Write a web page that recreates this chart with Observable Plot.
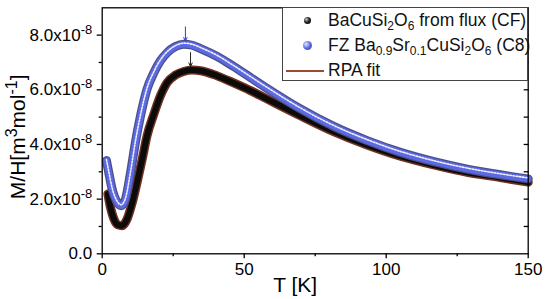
<!DOCTYPE html>
<html><head><meta charset="utf-8">
<script src="https://cdn.jsdelivr.net/npm/d3@7"></script>
<script src="https://cdn.jsdelivr.net/npm/@observablehq/plot@0.6"></script>
<style>
body{margin:0;background:#fff;}
#wrap{position:relative;width:550px;height:299px;font-family:"Liberation Sans",Arial,sans-serif;}
#legend{position:absolute;left:282px;top:7px;width:246px;height:74px;border:1px solid #444;background:#fff;box-sizing:border-box;font-size:17.5px;color:#111;}
.row{position:absolute;left:0;width:100%;height:25px;line-height:25px;white-space:nowrap;}
.txt{position:absolute;left:45px;top:0;}
.mk{position:absolute;border-radius:50%;}
sub{font-size:12px;vertical-align:-4px;line-height:0;}
</style></head>
<body>
<div id="wrap">
  <div id="chart"></div>
  <div id="legend">
    <div class="row" style="top:0px"><span class="mk" style="left:21px;top:9px;width:7px;height:7px;background:radial-gradient(circle at 35% 35%,#ccc 0,#222 45%,#000 100%)"></span><span class="txt">BaCuSi<sub>2</sub>O<sub>6</sub> from flux (CF)</span></div>
    <div class="row" style="top:25px"><span class="mk" style="left:20px;top:8px;width:9px;height:9px;background:radial-gradient(circle at 35% 35%,#e4e8ff 0,#5a68e0 50%,#3240b0 100%)"></span><span class="txt">FZ Ba<sub>0.9</sub>Sr<sub>0.1</sub>CuSi<sub>2</sub>O<sub>6</sub> (C8)</span></div>
    <div class="row" style="top:50px"><span style="position:absolute;left:3px;top:12px;width:38px;height:2px;background:#9c4a33"></span><span class="txt">RPA fit</span></div>
  </div>
</div>
<script>
// Temperature (K) and M/H (units of 1e-8 m^3/mol)
const T_CF = [2.0,2.9,4.1,5.5,7.0,8.8,10.6,12.3,14.1,15.8,18.2,20.5,22.9,25.8,28.7,31.7,34.6,40.5,46.3,52.2,58.1,69.8,81.5,93.3,105,116.8,128.5,140.2,150];
const M_CF = [2.19,1.70,1.28,1.06,1.03,1.28,1.88,2.62,3.47,4.32,5.11,5.78,6.27,6.54,6.67,6.72,6.70,6.51,6.25,5.97,5.66,5.05,4.47,3.98,3.57,3.25,2.98,2.79,2.62];
const T_C8 = [1.5,2.3,3.5,5.3,6.7,8.2,10,11.7,13.5,15.8,18.2,20.5,22.9,25.8,28.7,31.7,34.6,40.5,46.3,52.2,58.1,69.8,81.5,93.3,105,116.8,128.5,140.2,150];
const M_C8 = [3.41,2.98,2.37,1.88,1.76,2.0,2.98,4.08,5.05,6.03,6.63,7.06,7.36,7.58,7.67,7.63,7.51,7.22,6.85,6.45,6.05,5.30,4.66,4.14,3.71,3.37,3.10,2.89,2.74];
// peak arrows
const arrowT = [29.3, 31.1];
const arrowFrom = [8.3, 7.36];
const arrowTo = [7.78, 6.85];
const arrowColor = ["#2f3fd8", "#222222"];
// ticks
const xTicks = [0,50,100,150];
const xMinor = [25,75,125];
const yTicks = [0,2,4,6,8];
const yMinor = [1,3,5,7];
const yRight = [1,2,3,4,5,6,7,8];

const cf = T_CF.map((t,i)=>({T:t, M:M_CF[i]}));
const c8 = T_C8.map((t,i)=>({T:t, M:M_C8[i]}));
const arrows = arrowT.map((t,i)=>({T:t, y1:arrowFrom[i], y2:arrowTo[i], c:arrowColor[i]}));

const fmt = d => d === 0 ? "0.0" : d.toFixed(1) + "x10^{-8}";

const plot = Plot.plot({
  width: 550, height: 299,
  marginLeft: 101.7, marginRight: 22.3, marginTop: 7.3, marginBottom: 45.7,
  style: {fontFamily: "Liberation Sans, Arial, sans-serif", fontSize: "17px", color: "#000", background: "#fff", overflow: "visible"},
  x: {domain: [0,150]},
  y: {domain: [0,9]},
  marks: [
    // black data (CF) with RPA fit underlay
    Plot.line(cf, {x:"T", y:"M", stroke:"#6e3222", strokeWidth:9, curve:"monotone-x"}),
    Plot.line(cf, {x:"T", y:"M", stroke:"#0d0b0a", strokeWidth:6, curve:"monotone-x"}),
    // blue data (C8)
    Plot.line(c8, {x:"T", y:"M", stroke:"#4a4f86", strokeWidth:9, curve:"monotone-x"}),
    Plot.line(c8, {x:"T", y:"M", stroke:"#5d69e2", strokeWidth:6.5, curve:"monotone-x"}),
    Plot.line(c8, {x:"T", y:"M", stroke:"#eef0ff", strokeWidth:1.6, strokeDasharray:"1.6 1.6", dy:-1, curve:"monotone-x"}),
    Plot.arrow(arrows, {x:"T", y1:"y1", y2:"y2", stroke:"c", strokeWidth:1, headLength:6, headAngle:50}),
    Plot.frame({stroke:"#000", strokeWidth:1.3}),
    Plot.axisX({ticks: xTicks, tickSize:5, tickPadding:4, fontSize:17, label:null, strokeWidth:1.3}),
    Plot.axisX({ticks: xMinor, tickSize:3, tickFormat:()=>"", label:null, strokeWidth:1.3}),
    Plot.axisY({ticks: yTicks, tickSize:5, tickPadding:5, fontSize:17, tickFormat: fmt, label:null, strokeWidth:1.3}),
    Plot.axisY({ticks: yMinor, tickSize:3, tickFormat:()=>"", label:null, strokeWidth:1.3}),
    Plot.axisY({anchor:"right", ticks: yRight, tickSize:5, dx:-5, tickFormat:()=>"", label:null, strokeWidth:1.3}),
    Plot.text(["T [K]"], {frameAnchor:"bottom", textAnchor:"middle", lineAnchor:"middle", dx:-20, dy:31, fontSize:21}),
    Plot.text(["M/H[m^{3}mol^{-1}]"], {frameAnchor:"left", textAnchor:"middle", lineAnchor:"middle", rotate:-90, dx:-84, dy:6, fontSize:21})
  ]
});
document.getElementById("chart").appendChild(plot);

// superscript rendering for texts written with ^{...}
const NS = "http://www.w3.org/2000/svg";
plot.querySelectorAll("text").forEach(el => {
  const s = el.textContent;
  if (!/\^\{/.test(s)) return;
  const fs = parseFloat(getComputedStyle(el).fontSize) || 17;
  const parts = s.split(/(\^\{[^}]*\})/).filter(p => p !== "");
  el.textContent = "";
  let up = false;
  const rise = fs * 0.4;
  for (const p of parts) {
    const t = document.createElementNS(NS, "tspan");
    const m = p.match(/^\^\{(.*)\}$/);
    if (m) {
      t.textContent = m[1];
      t.setAttribute("font-size", Math.round(fs * 0.76));
      t.setAttribute("dy", -rise);
      up = true;
    } else {
      t.textContent = p;
      if (up) { t.setAttribute("dy", rise); up = false; }
    }
    el.appendChild(t);
  }
});
</script>
</body></html>
